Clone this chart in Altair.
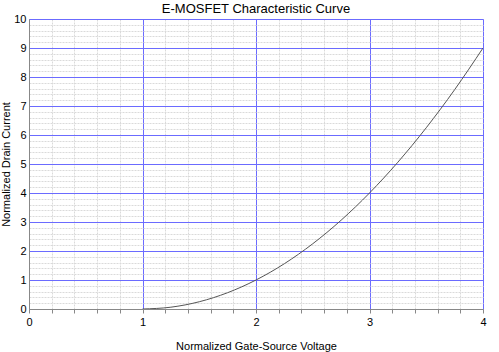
import altair as alt
import pandas as pd

# Curve readings (normalized gate-source voltage vs. normalized drain current)
vgs = [1.0, 1.25, 1.5, 1.75, 2.0, 2.25, 2.5, 2.75, 3.0, 3.25, 3.5, 3.75, 4.0]
idr = [0.0, 0.0625, 0.25, 0.5625, 1.0, 1.5625, 2.25, 3.0625, 4.0, 5.0625, 6.25, 7.5625, 9.0]

# Tick positions (major every 1, minor every 0.2)
x_ticks = [0, 0.2, 0.4, 0.6, 0.8, 1, 1.2, 1.4, 1.6, 1.8, 2, 2.2, 2.4, 2.6, 2.8,
           3, 3.2, 3.4, 3.6, 3.8, 4]
y_ticks = [i / 5 for i in range(0, 51)]

df = pd.DataFrame({"V": vgs, "I": idr})

is_major = "abs(datum.value - round(datum.value)) < 1e-6"

x_axis = alt.Axis(
    values=x_ticks,
    labelExpr=f"{is_major} ? toString(round(datum.value)) : ''",
    grid=True,
    gridColor=alt.condition(is_major, alt.value("#6b6bff"), alt.value("#dadada")),
    gridDash=alt.condition(is_major, alt.value([]), alt.value([2, 1])),
    gridWidth=1,
    tickColor="#888888",
    tickSize=4,
    domainColor="#888888",
    labelFont="Liberation Sans",
    labelFontSize=11,
    labelColor="#000000",
    labelPadding=3,
    labelFlush=False,
    title="Normalized Gate-Source Voltage",
    titleFont="Liberation Sans",
    titleFontSize=11,
    titleFontWeight="normal",
    titlePadding=13,
)

y_axis = alt.Axis(
    values=y_ticks,
    labelExpr=f"{is_major} ? toString(round(datum.value)) : ''",
    grid=True,
    gridColor=alt.condition(is_major, alt.value("#6b6bff"), alt.value("#dadada")),
    gridDash=alt.condition(is_major, alt.value([]), alt.value([2, 1])),
    gridWidth=1,
    ticks=False,
    domainColor="#888888",
    labelFont="Liberation Sans",
    labelFontSize=11,
    labelColor="#000000",
    labelPadding=3,
    labelFlush=False,
    title="Normalized Drain Current",
    titleFont="Liberation Sans",
    titleFontSize=11,
    titleFontWeight="normal",
    titlePadding=2,
)

chart = (
    alt.Chart(df)
    .mark_line(color="#555555", strokeWidth=1, clip=True, interpolate="monotone")
    .encode(
        x=alt.X("V:Q", scale=alt.Scale(domain=[0, 4], nice=False), axis=x_axis),
        y=alt.Y("I:Q", scale=alt.Scale(domain=[0, 10], nice=False), axis=y_axis),
    )
    .properties(
        width=454,
        height=290,
        title=alt.TitleParams(
            "E-MOSFET Characteristic Curve",
            font="Liberation Sans",
            fontSize=13,
            fontWeight="normal",
            color="#000000",
            offset=-3,
        ),
        padding={"left": 29, "top": 19, "right": 16, "bottom": 43},
        autosize=alt.AutoSizeParams(type="none"),
    )
    .configure_view(stroke="#888888", strokeWidth=1)
    .configure(background="white")
)

chart.save("out.html", embed_options={"renderer": "svg", "actions": False})
